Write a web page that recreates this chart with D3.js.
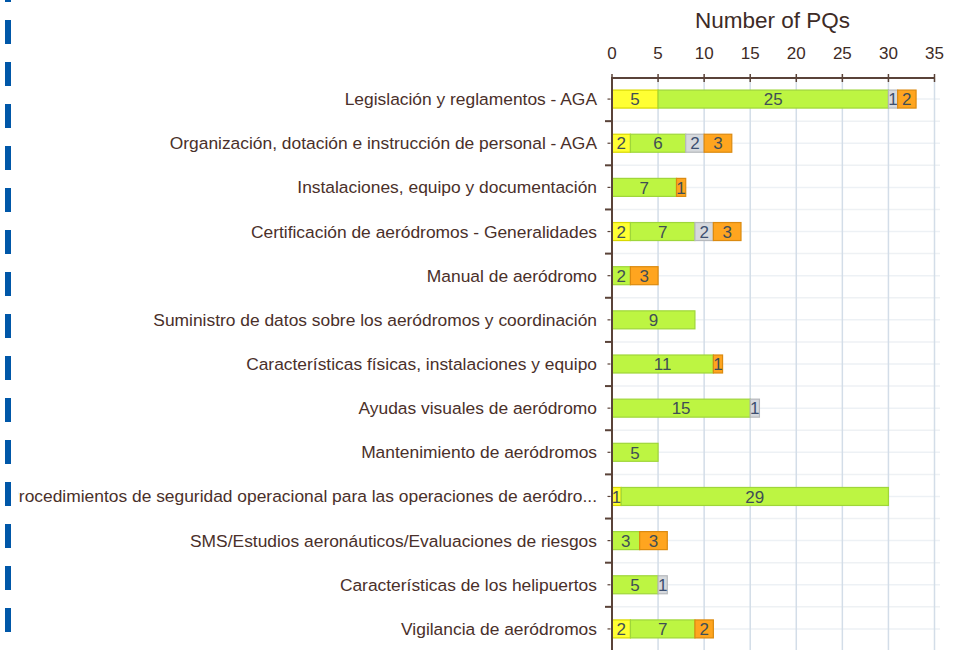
<!DOCTYPE html>
<html>
<head>
<meta charset="utf-8">
<script src="https://cdn.jsdelivr.net/npm/d3@7"></script>
<style>
html,body{margin:0;padding:0;background:#fff;}
svg{display:block;}
text{font-family:"Liberation Sans", Arial, sans-serif;}
</style>
</head>
<body>
<svg id="chart" width="965" height="650"></svg>
<script>
const categories = [
  "Legislación y reglamentos - AGA",
  "Organización, dotación e instrucción de personal - AGA",
  "Instalaciones, equipo y documentación",
  "Certificación de aeródromos - Generalidades",
  "Manual de aeródromo",
  "Suministro de datos sobre los aeródromos y coordinación",
  "Características físicas, instalaciones y equipo",
  "Ayudas visuales de aeródromo",
  "Mantenimiento de aeródromos",
  "Procedimientos de seguridad operacional para las operaciones de aeródro...",
  "SMS/Estudios aeronáuticos/Evaluaciones de riesgos",
  "Características de los helipuertos",
  "Vigilancia de aeródromos"
];
const seriesKeys = ["yellow", "green", "gray", "orange"];
const yellowValues = [5, 2, 0, 2, 0, 0, 0, 0, 0, 1, 0, 0, 2];
const greenValues  = [25, 6, 7, 7, 2, 9, 11, 15, 5, 29, 3, 5, 7];
const grayValues   = [1, 2, 0, 2, 0, 0, 0, 1, 0, 0, 0, 1, 0];
const orangeValues = [2, 3, 1, 3, 3, 0, 1, 0, 0, 0, 3, 0, 2];
const xTicks = [0, 5, 10, 15, 20, 25, 30, 35];
const axisTitle = "Number of PQs";

const fills   = {yellow:"#ffff33", green:"#bdf542", gray:"#d6d9dd", orange:"#ffa51f"};
const strokes = {yellow:"#d9d900", green:"#9fd63a", gray:"#b5b8bc", orange:"#db8a10"};

const rows = categories.map((c, i) => ({
  cat: c, yellow: yellowValues[i], green: greenValues[i], gray: grayValues[i], orange: orangeValues[i]
}));

const svg = d3.select("#chart");
const W = 965, H = 650;

// left dashed blue line
svg.append("line")
  .attr("x1", 8).attr("x2", 8).attr("y1", -22).attr("y2", H)
  .attr("stroke", "#0057a8").attr("stroke-width", 6)
  .attr("stroke-dasharray", "24 18");

const x = d3.scaleLinear().domain([0, 35]).range([612, 934.5]);
const y = d3.scaleBand().domain(categories).range([77, 651]).paddingInner(0).paddingOuter(0);
const bw = y.bandwidth();
const barH = 18;

// grid
const grid = svg.append("g");
categories.forEach(c => {
  const yc = y(c) + bw / 2;
  grid.append("line").attr("x1", 612).attr("x2", 940).attr("y1", yc).attr("y2", yc)
    .attr("stroke", "#edf1f5").attr("stroke-width", 1.5);
  grid.append("line").attr("x1", 612).attr("x2", 940).attr("y1", y(c) + bw).attr("y2", y(c) + bw)
    .attr("stroke", "#eef1f4").attr("stroke-width", 1.5);
});
xTicks.filter(t => t > 0).forEach(t => {
  grid.append("line").attr("x1", x(t)).attr("x2", x(t)).attr("y1", 78).attr("y2", H)
    .attr("stroke", "#d3dde8").attr("stroke-width", 1.5);
});

// bars
const stacked = d3.stack().keys(seriesKeys)(rows);
const barsG = svg.append("g");
stacked.forEach(layer => {
  const key = layer.key;
  layer.forEach((d, i) => {
    const v = d[1] - d[0];
    if (v <= 0) return;
    const cat = categories[i];
    const yc = y(cat) + bw / 2;
    barsG.append("rect")
      .attr("x", x(d[0])).attr("y", yc - barH / 2)
      .attr("width", x(d[1]) - x(d[0])).attr("height", barH)
      .attr("fill", fills[key]).attr("stroke", strokes[key]).attr("stroke-width", 1.2);
    barsG.append("text")
      .attr("x", (x(d[0]) + x(d[1])) / 2).attr("y", yc + 6.2)
      .attr("text-anchor", "middle")
      .attr("font-size", "17px")
      .attr("fill", key === "gray" ? "#3d4f70" : "#3f4e55")
      .text(v);
  });
});

// top axis
const axisCol = "#5a4339";
const topAxis = svg.append("g");
topAxis.append("line").attr("x1", x(0)).attr("x2", x(35)).attr("y1", 78).attr("y2", 78)
  .attr("stroke", axisCol).attr("stroke-width", 2);
xTicks.forEach(t => {
  topAxis.append("line").attr("x1", x(t)).attr("x2", x(t)).attr("y1", 74).attr("y2", 82)
    .attr("stroke", axisCol).attr("stroke-width", 1.5);
  topAxis.append("text").attr("x", x(t)).attr("y", 59).attr("text-anchor", "middle")
    .attr("font-size", "17px").attr("fill", "#3d2b26").text(t);
});
svg.append("text").attr("x", 772.5).attr("y", 28).attr("text-anchor", "middle")
  .attr("font-size", "22.5px").attr("fill", "#3d2b26").text(axisTitle);

// y axis
const yAxis = svg.append("g");
yAxis.append("line").attr("x1", 612).attr("x2", 612).attr("y1", 77).attr("y2", H)
  .attr("stroke", axisCol).attr("stroke-width", 2);
categories.forEach(c => {
  const yc = y(c) + bw / 2;
  yAxis.append("line").attr("x1", 605).attr("x2", 612).attr("y1", y(c) + bw).attr("y2", y(c) + bw)
    .attr("stroke", axisCol).attr("stroke-width", 2);
  yAxis.append("line").attr("x1", 607.5).attr("x2", 610.5).attr("y1", yc).attr("y2", yc)
    .attr("stroke", axisCol).attr("stroke-width", 1.2);
});

// category labels (clipped at left)
svg.append("clipPath").attr("id", "lblclip").append("rect")
  .attr("x", 18.5).attr("y", 0).attr("width", 600).attr("height", H);
const lbl = svg.append("g").attr("clip-path", "url(#lblclip)");
categories.forEach(c => {
  const yc = y(c) + bw / 2;
  lbl.append("text").attr("x", 597).attr("y", yc + 6)
    .attr("text-anchor", "end").attr("font-size", "17.4px").attr("fill", "#4a302a")
    .text(c);
});
</script>
</body>
</html>
